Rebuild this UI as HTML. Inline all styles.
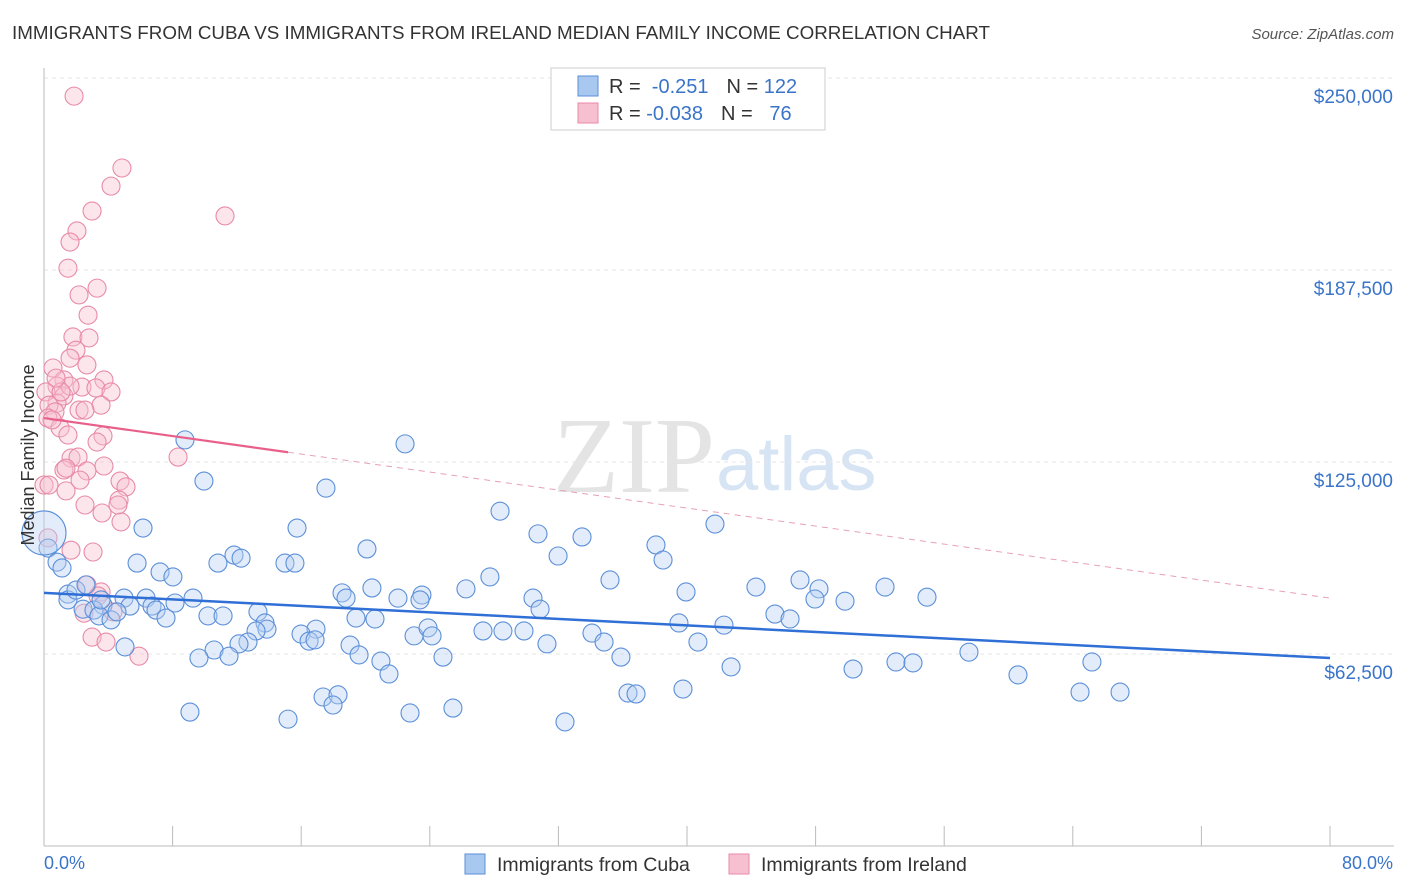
<!DOCTYPE html>
<html><head><meta charset="utf-8"><style>
body{margin:0;background:#fff;font-family:"Liberation Sans",sans-serif}
svg{display:block}
</style></head><body>
<svg id="chart" width="1406" height="892">
<text x="12" y="39" font-size="18" fill="#333" textLength="978" lengthAdjust="spacingAndGlyphs">IMMIGRANTS FROM CUBA VS IMMIGRANTS FROM IRELAND MEDIAN FAMILY INCOME CORRELATION CHART</text>
<text x="1394" y="39" font-size="15" fill="#555" font-style="italic" text-anchor="end">Source: ZipAtlas.com</text>
<text x="553" y="492" font-size="108" fill="#e4e4e4" font-family="Liberation Serif">ZIP</text>
<text x="716" y="490" font-size="76" fill="#d6e4f3">atlas</text>
<g id="grid"></g>
<g id="marks"></g>
<text transform="translate(34,455) rotate(-90)" font-size="18" fill="#333" text-anchor="middle">Median Family Income</text>
<text x="44" y="869" font-size="18" fill="#3a74c9">0.0%</text>
<text x="1393" y="869" font-size="18" fill="#3a74c9" text-anchor="end">80.0%</text>
<g>
<rect x="551" y="68" width="274" height="62" fill="#fff" stroke="#ccc"/>
<rect x="578" y="76" width="20" height="20" fill="#a9c8f0" stroke="#5b8fd8"/>
<rect x="578" y="103" width="20" height="20" fill="#f7c0d0" stroke="#e88aa8"/>
<text x="609" y="93" font-size="20" fill="#333">R = <tspan fill="#3a74c9">&#160;-0.251</tspan><tspan dx="18">N = </tspan><tspan fill="#3a74c9">122</tspan></text>
<text x="609" y="120" font-size="20" fill="#333">R = <tspan fill="#3a74c9">-0.038</tspan><tspan dx="18">N = </tspan><tspan fill="#3a74c9">&#160;&#160;76</tspan></text>
</g>
<g>
<rect x="465" y="854" width="20" height="20" fill="#a9c8f0" stroke="#5b8fd8"/>
<text x="497" y="871" font-size="19.5" fill="#333">Immigrants from Cuba</text>
<rect x="729" y="854" width="20" height="20" fill="#f7c0d0" stroke="#e88aa8"/>
<text x="761" y="871" font-size="19.5" fill="#333">Immigrants from Ireland</text>
</g>
</svg>
<script>
const yTicks=[62.5,125,187.5,250];
const yTickLabels=["$62,500","$125,000","$187,500","$250,000"];
const cubaX=[8.77,9.95,6.16,15.74,17.54,22.46,28.37,30.73,33.47,41.74,38.07,0.25,0.81,1.12,5.79,7.22,8.02,10.82,11.82,12.26,14.99,15.61,20.09,31.98,38.51,35.21,27.74,26.25,20.40,18.54,18.79,22.02,23.51,23.39,30.42,30.86,39.94,44.29,47.03,48.21,47.96,49.83,52.32,54.93,1.49,1.49,1.99,2.61,3.67,4.98,5.35,6.35,6.72,6.97,7.59,8.15,9.27,10.20,11.14,13.31,13.75,13.87,13.19,12.69,12.13,10.58,11.51,9.64,16.92,15.99,16.49,16.86,19.41,20.59,23.02,23.89,24.14,24.82,27.31,28.55,29.86,31.29,34.09,34.84,35.89,39.50,40.68,42.30,45.47,46.41,19.04,19.60,20.96,21.46,5.04,2.43,3.11,3.42,4.17,4.54,3.55,42.74,50.33,53.00,54.06,57.54,60.59,65.19,64.45,66.94,39.75,36.33,36.83,17.36,18.29,17.98,9.08,15.18,22.77,25.44,32.41];
const cubaY=[132.2,118.8,103.5,103.5,116.5,130.9,109.0,101.6,100.6,104.8,98.0,97.0,92.4,90.5,92.1,89.2,87.6,92.1,94.7,93.7,92.1,92.1,96.7,94.4,93.1,86.6,87.6,83.7,84.0,82.4,80.7,80.7,81.7,80.1,80.7,77.1,82.7,84.3,86.6,83.7,80.4,79.7,84.3,81.0,82.0,80.1,83.3,85.0,78.4,80.7,78.1,80.7,78.1,76.8,74.2,79.1,80.7,74.9,74.9,76.2,72.6,70.6,70.0,66.4,65.8,63.8,61.8,61.2,70.6,69.0,66.7,67.1,74.2,73.9,68.4,71.0,68.4,61.5,70.0,70.0,70.0,65.8,69.3,66.4,61.5,72.6,66.4,71.9,75.5,73.9,65.4,62.2,60.2,56.0,64.8,77.1,76.8,74.9,73.6,76.2,80.1,58.3,57.6,59.9,59.6,63.1,55.7,59.9,50.1,50.1,51.1,49.8,49.5,48.5,49.2,45.9,43.6,41.3,43.3,44.9,40.4];
const cubaBigX=[0], cubaBigY=[101.9];
const irelandX=[1.87,4.85,4.17,11.26,2.99,2.05,1.62,1.49,3.30,2.18,2.74,1.80,2.80,1.99,1.62,2.67,0.56,1.24,3.73,0.81,2.36,3.23,4.17,1.24,0.12,0.81,0.31,3.55,2.18,2.55,0.68,0.25,1.00,1.49,3.67,3.30,1.68,1.24,2.12,3.73,8.34,2.67,4.73,5.10,0,0.31,1.37,4.67,2.55,3.61,4.79,0.25,1.68,3.05,2.67,3.55,4.29,2.49,2.99,3.86,5.91,3.36,1.62,1.06,0.75,0.50,2.24,4.60,1.37];
const irelandY=[244.1,220.7,214.8,205.1,206.7,200.2,196.6,188.1,181.6,179.4,172.8,165.7,165.4,161.4,158.8,156.6,155.6,151.7,151.7,149.7,149.4,149.1,147.8,146.5,147.8,144.2,143.5,143.5,141.9,141.9,141.3,139.3,136.1,133.8,133.5,131.5,126.3,122.4,126.6,123.7,126.6,122.1,118.8,116.9,117.5,117.5,115.6,112.6,111.0,108.4,105.5,100.3,96.3,95.7,85.0,82.7,76.2,75.8,68.0,66.4,61.8,81.4,149.7,147.8,152.3,138.7,119.1,111.0,123.0];
const cubaTrend=[82.4,61.2];
const irelandTrend=[139.3,80.7];
const irelandSolidEnd=15.18;
const sx=v=>44+v/80*1286;
const sy=v=>846-v/62.5*192;
const NS="http://www.w3.org/2000/svg";
function mk(tag,attrs,parent){const e=document.createElementNS(NS,tag);for(const k in attrs)e.setAttribute(k,attrs[k]);parent.appendChild(e);return e;}
const grid=document.getElementById('grid'), marks=document.getElementById('marks');
yTicks.forEach((t,i)=>{
  const l=mk('line',{x1:44,x2:1394,y1:sy(t),y2:sy(t),stroke:'#e6e6e6','stroke-dasharray':'4,4'},grid);
  
  
  const tx=mk('text',{x:1393,y:sy(t)+25,'font-size':19,fill:'#3a74c9','text-anchor':'end'},grid);
  tx.textContent=yTickLabels[i];
  
  
});
const ax=mk('line',{x1:44,x2:44,y1:68,y2:846,stroke:'#bbb'},grid);


const bx=mk('line',{x1:44,x2:1394,y1:846,y2:846,stroke:'#bbb'},grid);


for(let i=0;i<=10;i++){const tk=mk('line',{x1:sx(i*8),x2:sx(i*8),y1:826,y2:846,stroke:'#bbb'},grid);

}
function dots(xs,ys,r,fill,stroke,name){xs.forEach((x,i)=>{const c=mk('circle',{cx:sx(x),cy:sy(ys[i]),r:r,fill:fill,'fill-opacity':0.4,stroke:stroke,'stroke-width':1.1},marks);

});}
dots(irelandX,irelandY,9,'#f7c0d0','#e88aa8','ireland-point');
dots(cubaX,cubaY,9,'#b6d0f2','#5b8fd8','cuba-point');
dots(cubaBigX,cubaBigY,22,'#b6d0f2','#5b8fd8','cuba-point-large');
const tr1=mk('line',{x1:sx(0),y1:sy(cubaTrend[0]),x2:sx(80),y2:sy(cubaTrend[1]),stroke:'#2f6fd6','stroke-width':2.5},marks);


const yi=x=>irelandTrend[0]+(irelandTrend[1]-irelandTrend[0])*x/80;
const tr2=mk('line',{x1:sx(0),y1:sy(irelandTrend[0]),x2:sx(irelandSolidEnd),y2:sy(yi(irelandSolidEnd)),stroke:'#e8608a','stroke-width':2.2},marks);


const tr3=mk('line',{x1:sx(irelandSolidEnd),y1:sy(yi(irelandSolidEnd)),x2:sx(80),y2:sy(irelandTrend[1]),stroke:'#e8a0b8','stroke-width':1,'stroke-dasharray':'6,5'},marks);


</script>
</body></html>
